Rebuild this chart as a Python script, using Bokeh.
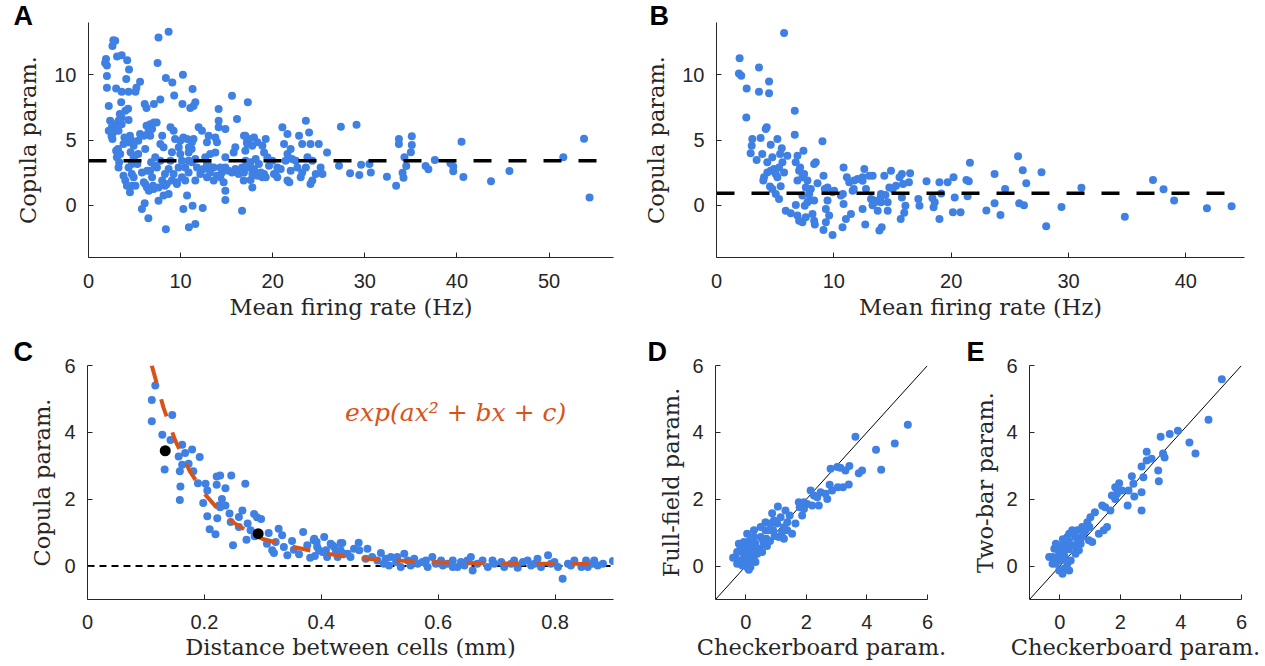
from bokeh.plotting import figure
from bokeh.models import Range1d, FixedTicker, NumeralTickFormatter, Label
from bokeh.layouts import row, column
from bokeh.embed import file_html
from bokeh.resources import INLINE

BLUE = "#3f80e4"
ORANGE = "#d95319"
DARK = "#262626"
SERIF = "DejaVu Serif"

# ---------------- Panel A: mean firing rate vs copula param (checkerboard) --------------
A_pts = [
 (2.7,12.65),(2.6,12.2),(2.9,12.6),(1.9,11.2),(1.8,10.9),(2.0,10.7),(3.1,11.4),(3.6,11.5),(4.2,11.1),(4.4,10.4),
 (2.0,9.9),(4.1,9.67),(5.6,9.46),(2.0,9.0),(3.0,8.95),(3.6,8.7),(4.35,8.7),(5.1,8.7),(5.2,9.0),(2.2,7.6),(3.55,7.9),(4.3,7.4),
 (6.1,7.75),(6.3,7.45),(7.1,7.75),(7.8,8.1),(7.6,12.85),(8.7,13.3),(7.5,10.9),(8.4,9.74),(9.1,9.41),(10.25,10.0),(9.3,8.4),
 (10.2,7.75),(11.3,8.9),(11.05,7.45),(11.6,7.9),(11.4,7.6),
 (2.35,6.48),(2.54,5.97),(2.7,5.6),(2.6,5.07),(2.9,6.2),(3.26,6.48),(3.6,6.73),(3.6,6.2),(3.4,7.0),(4.0,7.24),(4.35,6.53),(3.26,5.7),
 (2.2,5.7),(2.5,5.3),(3.9,5.2),(4.5,5.33),(4.7,4.95),(4.3,4.82),(3.8,4.69),(4.9,4.56),(5.4,4.95),(5.6,5.46),(6.0,5.33),(6.5,5.6),
 (6.3,6.1),(6.7,6.2),(7.1,6.35),(7.4,6.35),(6.9,5.84),(6.7,5.33),
 (3.2,4.31),(3.44,3.93),(3.26,2.9),(3.8,2.27),(4.0,1.89),(4.17,1.5),(4.5,0.99),(4.7,1.5),(4.9,2.14),(5.1,1.5),(4.35,2.9),(4.7,3.16),
 (5.0,3.8),(5.4,3.93),(5.8,2.52),(6.16,1.63),(6.34,1.37),(6.7,2.65),(6.16,4.31),(7.25,3.67),(7.43,2.9),(7.8,4.69),(8.0,5.33),
 (8.15,4.44),(7.8,3.42),(7.07,1.25),(7.6,1.37),(8.0,1.89),(8.3,2.4),(8.7,2.78),(8.9,3.42),(9.06,4.06),(8.9,5.97),(9.24,5.7),
 (9.4,5.07),(9.8,4.44),(9.96,3.93),(10.3,5.2),(10.7,5.07),(10.9,4.44),(11.4,5.07),(11.2,4.31),
 (8.3,1.5),(8.7,0.86),(8.15,0.74),(7.6,0.35),(8.5,1.63),(9.6,1.63),(5.8,-0.28),(6.1,0.15),(6.5,-1.0),(8.4,-1.84),(10.3,-0.28),
 (10.7,0.74),(10.9,-1.69),(11.6,-1.43),(11.3,-0.03),(12.4,-0.2),
 (10.14,3.42),(10.5,2.9),(10.87,2.52),(10.14,2.14),(9.78,2.9),(11.23,3.29),(11.78,2.9),(12.14,2.4),(12.5,2.78),(12.86,2.14),
 (13.22,2.52),(13.59,1.89),(13.95,2.27),(14.31,2.14),(14.67,1.76),(14.49,2.52),(14.86,2.9),(15.2,2.65),(15.58,2.52),(15.94,2.78),
 (16.3,2.4),(16.67,2.9),(15.76,4.05),(15.94,4.44),(14.86,3.67),(14.31,2.9),(13.59,2.9),(13.04,3.03),(12.68,3.67),(13.22,3.93),
 (13.77,4.05),(13.95,4.82),(13.77,5.2),(13.04,5.33),(12.86,4.82),(12.32,5.71),(11.96,5.97),(14.13,5.97),(14.86,5.84),(14.13,6.48),
 (14.13,7.37),(16.12,6.6),(15.58,8.39),(17.03,5.33),(17.2,4.82),(17.03,4.18),(17.2,2.9),(16.85,1.89),(14.86,1.12),(14.86,0.41),
 (16.67,-0.41),(17.3,7.9),
 (9.24,2.4),(9.06,1.89),(10.5,1.89),(9.6,1.76),(11.6,1.89),(11.6,3.55),(12.86,3.16),(10.87,3.42),(9.96,4.95),(10.87,4.05),
 (11.23,4.82),(3.0,4.18),(3.08,3.67),(3.33,3.29),(4.57,4.06),(4.9,3.67),(5.3,3.17),(4.7,2.4),(6.38,2.65),(6.9,2.14),(6.0,1.76),
 (7.0,1.5),(6.55,1.12),(7.2,3.03),(6.8,3.3),
 (16.88,5.33),(17.43,5.07),(17.97,5.2),(18.33,4.82),(17.79,4.56),(17.24,4.69),(19.24,5.07),(18.88,4.56),(19.06,4.05),(19.42,3.67),
 (17.06,3.42),(17.6,3.29),(18.15,3.54),(18.5,3.16),(17.97,2.78),(17.43,2.9),(16.88,2.52),(18.7,2.52),(18.33,2.27),(19.06,2.4),
 (19.24,2.14),(17.79,2.4),(17.6,1.94),(17.79,1.37),(18.88,2.14),(19.6,3.03),
 (19.96,3.42),(20.5,2.9),(20.3,2.4),(20.87,2.78),(21.4,3.42),(21.6,3.93),(21.23,4.69),(21.6,5.46),(21.05,5.97),(21.95,4.31),
 (22.1,3.54),(21.95,2.65),(22.5,3.42),(22.68,2.9),(23.2,2.52),(23.04,2.14),(22.86,5.33),(23.2,4.69),(23.6,6.48),(23.95,5.58),
 (24.1,4.69),(23.77,3.67),(23.6,2.9),(24.3,3.42),(24.67,2.4),(25.0,4.69),(25.2,2.9),(25.4,2.4),(25.9,4.05),(24.3,1.89),
 (24.1,1.63),(21.8,1.76),(21.6,1.89),(20.5,2.14),(20.14,2.4),
 (27.2,3.03),(27.4,6.02),(29.1,6.17),(28.4,2.45),(29.4,2.32),(29.6,3.11),(30.5,3.16),(30.65,2.52),(32.4,2.19),(33.4,1.5),
 (33.7,5.07),(33.7,4.69),(35.1,5.28),(35.1,4.62),(35.0,4.06),(34.3,3.68),(34.5,3.0),(34.1,2.49),(34.2,2.1),(36.6,3.0),
 (36.9,2.76),(37.6,3.47),(39.3,3.22),(39.6,2.97),(39.6,2.6),(40.5,4.87),(40.7,2.16),(43.7,1.85),(45.7,2.63),(51.55,3.68),
 (53.8,5.1),(54.4,0.59),
]
A_rate = [p[0] for p in A_pts]
A_copula = [p[1] for p in A_pts]
A_mean = 3.42

# ---------------- Panel B ----------------
B_pts = [
 (5.76,13.19),(1.97,11.27),(1.91,10.1),(2.11,9.92),(3.62,10.56),(2.57,8.95),(3.62,8.7),(4.48,9.49),(4.48,8.59),(2.54,6.73),
 (6.67,7.24),(6.67,5.41),(4.28,5.97),(4.19,5.84),(3.05,5.07),(3.76,5.15),(3.0,4.56),(2.91,3.98),(3.42,3.47),
 (4.62,4.64),(5.19,5.07),(5.56,4.36),(6.04,3.8),(5.42,3.93),(4.76,3.67),(4.33,3.29),(3.9,3.93),(4.05,2.14),(3.99,1.89),
 (4.33,2.52),(4.62,2.65),(4.9,2.78),(5.05,2.4),(5.33,2.9),(5.62,3.29),(5.76,2.52),(5.19,2.14),(4.76,1.25),(4.56,1.43),
 (5.47,1.45),(5.05,0.86),(5.33,0.48),
 (6.9,3.8),(6.75,3.29),(7.41,4.18),(7.13,2.9),(7.32,2.14),(6.9,1.89),(7.04,2.65),(7.47,2.4),(7.75,1.89),(7.61,1.37),
 (8.04,1.25),(7.9,0.86),(8.32,0.36),(7.75,0.23),(7.32,0.74),(8.61,1.68),(8.32,3.16),(8.46,3.29),(9.12,2.27),(9.03,4.9),
 (5.9,-0.41),(6.33,-0.61),(6.76,0.02),(6.9,-0.79),(7.04,-1.18),(7.32,-1.3),(7.61,-0.92),(7.52,-0.03),(7.9,0.36),
 (8.32,-1.18),(8.38,-1.48),(8.18,-0.67),(9.12,-1.89),(9.32,-1.3),(9.6,-0.79),(9.32,-0.28),(9.46,0.36),(9.23,1.25),
 (9.46,1.37),(9.89,-2.27),(10.03,1.12),(10.74,-1.69),(10.83,0.1),(10.77,0.86),(10.83,2.9),(11.11,2.14),(11.03,-1.05),
 (11.46,-0.67),(11.6,1.12),(11.31,1.76),(11.74,1.89),(12.03,2.01),(12.45,2.14),(12.6,2.78),(12.74,1.25),(13.02,2.27),
 (13.31,2.27),(13.17,0.48),(13.45,0.36),(13.74,-0.41),(14.02,0.86),(14.02,0.23),(14.3,2.27),(14.59,0.23),(14.59,-0.41),
 (14.73,1.37),(14.87,2.65),(15.02,1.25),(15.3,1.5),(13.88,-1.94),(14.08,-1.69),(12.68,-1.48),(12.45,-0.28),
 (9.9,1.0),(10.6,0.75),(11.7,1.25),(12.45,1.88),(13.3,0.0),(13.6,0.27),(14.4,0.78),(14.0,0.65),
 (15.6,2.14),(15.8,2.4),(15.9,1.63),(16.4,1.76),(16.5,2.45),(15.8,0.6),(16.1,-0.03),(16.0,-0.57),(15.7,-1.05),(17.2,0.49),
 (17.3,-0.03),(17.9,1.84),(18.4,0.56),(18.6,0.23),(18.5,-0.16),(19.0,1.76),(19.0,-1.05),(19.15,0.9),(19.7,1.76),(20.2,2.14),
 (20.3,0.6),(20.15,-0.54),(20.8,-0.54),
 (21.3,1.94),(21.5,1.84),(21.6,3.26),(21.4,0.69),(23.0,-0.4),(23.7,2.4),(23.7,0.15),(24.2,-0.74),(24.6,1.25),(25.7,3.75),
 (26.1,2.68),(26.4,1.68),(25.8,0.15),(26.2,0.0),(27.7,2.53),(28.1,-1.6),(29.4,-0.13),(31.1,1.35),(34.8,-0.87),(37.2,1.94),
 (38.1,1.22),(39.0,0.36),(41.8,-0.23),(43.9,-0.08),
]
B_rate = [p[0] for p in B_pts]
B_copula = [p[1] for p in B_pts]
B_mean = 0.92

# ---------------- Panel C: distance vs copula param ----------------
C_pts = [
 (0.116,5.4),(0.110,4.97),(0.110,4.33),(0.145,4.52),(0.128,3.93),(0.142,3.77),(0.162,3.63),(0.179,3.49),(0.167,3.38),
 (0.156,3.28),(0.192,3.26),(0.162,3.03),(0.173,3.06),(0.181,2.84),(0.158,2.84),(0.132,2.89),(0.189,2.48),(0.159,2.38),
 (0.158,1.98),(0.202,2.46),(0.205,2.26),(0.221,2.68),(0.227,2.71),(0.246,2.71),(0.236,2.33),(0.221,2.43),(0.270,2.46),
 (0.230,2.01),(0.236,1.81),(0.227,1.76),(0.225,1.81),(0.198,1.89),(0.205,1.49),(0.222,1.43),(0.209,1.1),(0.219,0.95),
 (0.243,1.57),(0.245,1.32),(0.259,1.47),(0.265,1.66),(0.259,1.17),(0.272,0.79),(0.249,0.62),(0.285,1.56),(0.297,1.41),
 (0.290,1.46),(0.274,1.27),(0.279,1.07),(0.286,0.89),(0.31,0.99),(0.327,1.12),(0.333,0.92),(0.322,0.72),(0.307,0.67),
 (0.316,0.47),(0.319,0.39),(0.336,0.57),(0.342,0.32),(0.350,0.75),(0.353,0.49),(0.362,0.35),(0.369,1.02),(0.376,0.62),
 (0.387,0.77),(0.393,0.57),(0.405,0.87),(0.402,0.42),(0.410,0.27),(0.419,0.62),(0.433,0.69),(0.439,0.37),(0.428,0.27),
 (0.389,0.3),(0.381,0.25),
 (0.388,0.82),(0.392,0.72),(0.396,0.47),(0.408,0.47),(0.416,0.67),(0.422,0.57),(0.436,0.69),(0.433,0.47),(0.445,0.37),
 (0.450,0.27),(0.464,0.7),(0.465,0.47),(0.479,0.52),(0.476,0.22),(0.487,0.27),(0.502,0.39),(0.496,0.17),(0.510,0.22),
 (0.519,0.27),(0.516,0.02),(0.528,0.12),(0.536,-0.03),(0.542,0.37),(0.548,0.17),(0.559,0.22),(0.565,0.07),(0.573,0.12),
 (0.582,-0.03),(0.590,0.27),(0.596,0.07),(0.605,0.17),(0.616,0.07),(0.625,0.17),(0.633,-0.03),(0.639,0.12),(0.650,0.17),
 (0.656,0.27),(0.659,-0.13),(0.667,0.07),(0.676,0.17),(0.685,-0.03),(0.696,0.07),(0.708,0.12),(0.713,-0.03),(0.725,0.07),
 (0.736,-0.05),(0.745,0.12),(0.753,0.17),(0.765,0.07),(0.770,0.22),(0.776,-0.03),(0.788,0.32),(0.799,0.12),(0.805,-0.03),
 (0.813,-0.38),(0.822,0.07),(0.833,0.17),(0.845,-0.03),(0.853,0.17),(0.856,-0.03),(0.865,0.07),(0.873,0.02),(0.882,0.07),
 (0.899,0.15),
 (0.507,0.07),(0.553,0.02),(0.608,0.02),(0.645,0.02),(0.693,0.17),(0.730,0.17),(0.759,0.02),(0.793,0.07),(0.827,0.02),
 (0.867,0.17),(0.625,-0.03),(0.579,0.17),(0.530,0.27),(0.456,0.52),(0.425,0.42),
]
C_dist = [p[0] for p in C_pts]
C_copula = [p[1] for p in C_pts]
C_black_dist = [0.133, 0.292]
C_black_copula = [3.45, 0.97]
fit_dist = [0.11, 0.13, 0.15, 0.175, 0.2, 0.225, 0.25, 0.275, 0.3, 0.35, 0.4, 0.45, 0.5, 0.6, 0.7, 0.8, 0.87]
fit_copula = [6.0, 4.74, 3.76, 2.84, 2.17, 1.67, 1.30, 1.03, 0.81, 0.58, 0.40, 0.26, 0.19, 0.11, 0.08, 0.067, 0.065]

# ---------------- Panel D: checkerboard vs full-field ----------------
D_pts = [
 (5.35,4.23),(3.62,3.87),(4.30,3.48),(4.92,3.67),(4.47,2.88),(3.84,2.86),(3.73,2.78),(3.42,2.99),(3.29,2.86),(3.12,2.94),
 (2.80,2.91),(3.02,2.96),(3.40,2.44),(3.21,2.36),(3.04,2.36),(2.77,2.43),(2.85,2.26),(2.63,2.16),(2.47,2.21),(2.69,2.01),
 (2.36,2.06),(2.14,2.26),(2.25,2.11),(2.41,1.81),(2.19,1.81),(2.03,1.86),(1.75,1.91),(1.92,1.91),(1.92,1.71),(1.78,1.76),
 (1.86,1.51),(1.64,1.27),(1.06,1.78),(1.31,1.66),(1.45,1.51),(1.37,1.31),(1.53,0.97),(1.26,1.16),(1.15,1.46),(1.04,1.27),
 (0.90,1.07),(0.93,1.36),(0.82,1.27),(0.76,1.07),(0.68,0.82),(0.60,0.67),(0.49,0.87),(0.65,1.31),(0.87,1.58),
 (0.27,0.87),(0.32,0.67),(0.21,0.57),(0.045,0.67),(0.10,0.47),(-0.07,0.37),(-0.175,0.57),(-0.285,0.42),(-0.175,0.17),
 (-0.01,0.17),(0.155,0.17),(0.265,0.27),(0.045,-0.03),(-0.12,0.02),(-0.285,0.07),(-0.34,0.27),(-0.42,0.25),(-0.23,0.67),
 (-0.065,0.72),(0.045,0.97),(0.27,1.07),(0.43,0.52),(0.54,0.42),(0.38,0.37),(0.32,0.12),(0.155,-0.03),(0.49,1.17),
 (0.65,1.07),(1.09,0.87),(1.20,1.02),(1.37,1.07),(1.26,0.82),(0.07,-0.05),(0.10,-0.11),
 (0.02,0.3),(0.12,0.75),(0.2,0.35),(0.35,0.45),(0.7,0.6),(0.8,0.75),(0.95,0.9),(0.55,0.8),(-0.1,0.5),(0.0,0.05),
]
D_checker = [p[0] for p in D_pts]
D_full = [p[1] for p in D_pts]

# ---------------- Panel E: checkerboard vs two-bar ----------------
E_pts = [
 (5.35,5.59),(4.91,4.38),(4.28,3.70),(4.48,3.37),(3.90,4.05),(3.63,3.95),(3.33,3.87),(3.46,3.25),(3.41,3.37),(2.87,3.42),
 (2.87,3.16),(3.03,3.21),(3.25,2.86),(3.27,2.54),(2.70,2.98),(2.76,2.66),(2.70,2.21),(2.70,1.66),(2.38,2.69),(2.43,2.46),
 (2.46,2.08),(2.27,2.26),(2.24,1.81),(1.96,2.48),(1.83,2.36),(1.72,2.11),(1.89,2.16),(2.05,2.26),(1.83,2.01),(1.40,1.81),
 (1.50,1.76),(1.67,1.66),(1.56,1.17),(1.29,0.97),(1.45,1.07),(1.16,1.61),(1.01,1.46),(0.91,1.31),(0.98,1.17),(1.07,0.72),
 (0.85,1.07),(0.74,0.87),(0.69,0.67),(0.63,0.47),(0.47,0.62),(0.52,0.87),(0.58,1.07),(0.74,1.17),(0.41,1.07),(0.31,0.97),
 (0.25,0.87),(0.20,0.67),(0.14,0.47),(0.09,0.57),(-0.02,0.42),(-0.08,0.27),(0.03,0.17),(-0.13,0.07),(-0.02,-0.13),
 (0.09,-0.23),(0.14,-0.08),(0.25,0.07),(0.31,-0.13),(0.36,0.17),(-0.24,0.27),(-0.18,0.52),(-0.13,0.67),(-0.35,0.27),
 (-0.24,0.07),(0.52,0.37),(0.63,0.67),(0.96,0.77),
 (0.05,0.3),(0.15,0.3),(0.3,0.5),(0.4,0.6),(0.1,0.8),(0.0,0.6),(0.2,0.2),(0.6,0.8),(0.8,1.0),(0.3,0.75),
]
E_checker = [p[0] for p in E_pts]
E_twobar = [p[1] for p in E_pts]

diag = [-1, 6]


def make_fig(fw, fh, bl, br, bt, bb, xr, yr, xticks, yticks, xlabel, ylabel,
             x_std=(16, 3), y_std=10):
    p = figure(frame_width=fw, frame_height=fh, min_border_left=bl, min_border_right=br,
               min_border_top=bt, min_border_bottom=bb, x_range=Range1d(*xr), y_range=Range1d(*yr),
               output_backend="svg", toolbar_location=None)
    p.outline_line_color = None
    p.grid.visible = False
    p.background_fill_color = "white"
    p.border_fill_color = "white"
    for ax in (p.xaxis[0], p.yaxis[0]):
        ax.axis_line_color = DARK
        ax.axis_line_width = 1
        ax.major_tick_line_color = DARK
        ax.major_tick_in = 5
        ax.major_tick_out = 0
        ax.minor_tick_line_color = None
        ax.major_label_text_font = "Liberation Sans"
        ax.major_label_text_font_size = "20px"
        ax.major_label_text_color = DARK
        ax.axis_label_text_font = SERIF
        ax.axis_label_text_font_size = "22.5px"
        ax.axis_label_text_font_style = "normal"
        ax.axis_label_text_color = DARK
    p.xaxis.ticker = FixedTicker(ticks=xticks)
    p.yaxis.ticker = FixedTicker(ticks=yticks)
    p.xaxis.axis_label = xlabel
    p.yaxis.axis_label = ylabel
    p.xaxis.major_label_standoff = x_std[0]
    p.xaxis.axis_label_standoff = x_std[1]
    p.yaxis.major_label_standoff = 12
    p.yaxis.axis_label_standoff = y_std
    p.xaxis.formatter = NumeralTickFormatter(format="0.[0]")
    return p


def letter(p, text, offset, standoff):
    t = p.title
    t.text = text
    t.text_font = "Liberation Sans"
    t.text_font_style = "bold"
    t.text_font_size = "27px"
    t.text_color = "black"
    t.align = "left"
    t.offset = offset
    try:
        t.standoff = standoff
    except Exception:
        t.standoff = 0


# Panel A
pA = make_fig(525, 235, 88, 27, 22, 76, (0, 57), (-4, 14), [0, 10, 20, 30, 40, 50], [0, 5, 10],
              "Mean firing rate (Hz)", "Copula param.")
pA.scatter(A_rate, A_copula, size=8, color=BLUE, line_color=None)
pA.line([0, 56], [A_mean, A_mean], line_color="black", line_width=3.5, line_dash="18 17")
letter(pA, "A", -75, -17)

# Panel B
pB = make_fig(528, 235, 74, 23, 22, 76, (0, 45), (-4, 14), [0, 10, 20, 30, 40], [0, 5, 10],
              "Mean firing rate (Hz)", "Copula param.")
pB.scatter(B_rate, B_copula, size=8, color=BLUE, line_color=None)
pB.line([0, 44], [B_mean, B_mean], line_color="black", line_width=3.5, line_dash="18 17")
letter(pB, "B", -67, -17)

# Panel C
pC = make_fig(526, 234, 87, 27, 32, 67, (0, 0.9), (-1, 6), [0, 0.2, 0.4, 0.6, 0.8], [0, 2, 4, 6],
              "Distance between cells (mm)", "Copula param.", x_std=(15, 2), y_std=6)
pC.line([0, 0.9], [0, 0], line_color="black", line_width=2, line_dash="7 5")
pC.scatter(C_dist, C_copula, size=8, color=BLUE, line_color=None)
pC.line(fit_dist, fit_copula, line_color=ORANGE, line_width=4, line_dash="18 17")
pC.scatter(C_black_dist, C_black_copula, size=11, color="black", line_color=None)
pC.add_layout(Label(x=0.63, y=4.6, text="exp(ax\u00b2 + bx + c)", text_font=SERIF,
                    text_font_style="italic", text_font_size="25px", text_color=ORANGE,
                    text_align="center", text_baseline="middle"))
letter(pC, "C", -74, -3)

# Panel D
pD = make_fig(212, 234, 75, 33, 32, 67, (-1, 6), (-1, 6), [0, 2, 4, 6], [0, 2, 4, 6],
              "Checkerboard param.", "Full-field param.", x_std=(15, 2), y_std=5)
pD.line(diag, diag, line_color="black", line_width=1)
pD.scatter(D_checker, D_full, size=8, color=BLUE, line_color=None)
letter(pD, "D", -68, -3)

# Panel E
pE = make_fig(212, 234, 69, 24, 32, 67, (-1, 6), (-1, 6), [0, 2, 4, 6], [0, 2, 4, 6],
              "Checkerboard param.", "Two-bar param.", x_std=(15, 2), y_std=5)
pE.line(diag, diag, line_color="black", line_width=1)
pE.scatter(E_checker, E_twobar, size=8, color=BLUE, line_color=None)
letter(pE, "E", -63, -3)

layout = column(row(pA, pB, spacing=0), row(pC, pD, pE, spacing=0), spacing=0)
open("out.html", "w").write(file_html(layout, INLINE))
